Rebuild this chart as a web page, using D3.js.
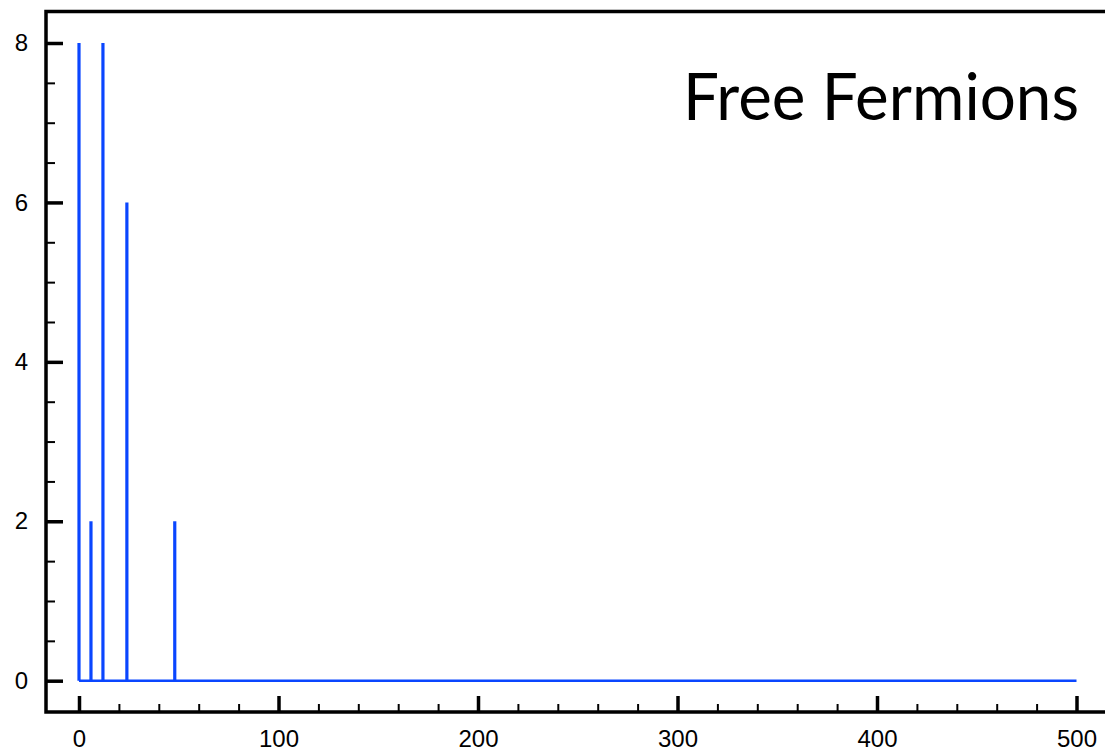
<!DOCTYPE html>
<html>
<head>
<meta charset="utf-8">
<script src="https://cdn.jsdelivr.net/npm/d3@7"></script>
<style>
  body { margin: 0; background: #fff; }
  svg { display: block; }
</style>
</head>
<body>
<div id="chart"></div>
<script>
// spike positions (energy) and their heights (degeneracy)
var energies = [0, 6, 12, 24, 48]
var degeneracy = [8, 2, 8, 6, 2]
var xMax = 500

var xTicks = [0, 100, 200, 300, 400, 500]
var yTicks = [0, 2, 4, 6, 8]
var title = "Free Fermions"

var svgWidth = 1105
var svgHeight = 754

// plot frame
var frame = { left: 46, top: 11.5, right: 1112, bottom: 712 }

var svg = d3.select("#chart")
    .append("svg")
    .attr("width", svgWidth)
    .attr("height", svgHeight)

var x = d3.scaleLinear()
    .domain([0, xMax])
    .range([79, 1076.5])

var y = d3.scaleLinear()
    .domain([0, 8])
    .range([680.7, 43])

var blue = "#0a46ff"

// baseline
svg.append("line")
    .attr("x1", x(0))
    .attr("x2", x(xMax))
    .attr("y1", y(0))
    .attr("y2", y(0))
    .attr("stroke", blue)
    .attr("stroke-width", 2.4)

// spikes
var spikes = energies.map(function(e, i) {
    return { e: e, n: degeneracy[i] }
})

svg.selectAll("line.spike").data(spikes)
    .enter().append("line").attr("class", "spike")
    .attr("x1", function(d) { return x(d.e) })
    .attr("x2", function(d) { return x(d.e) })
    .attr("y1", y(0))
    .attr("y2", function(d) { return y(d.n) })
    .attr("stroke", blue)
    .attr("stroke-width", 3.2)

// minor ticks
var xMinor = d3.range(0, xMax + 1, 20).filter(function(v) { return v % 100 !== 0 })
var yMinor = d3.range(0, 8.01, 0.5).filter(function(v) { return v % 2 !== 0 })

svg.append("g")
    .attr("transform", "translate(0," + frame.bottom + ")")
    .call(function(g) {
        g.call(d3.axisBottom(x).tickValues(xMinor).tickSize(-8).tickFormat(""))
        styleAxis(g, 2)
    })

svg.append("g")
    .attr("transform", "translate(" + frame.left + ",0)")
    .call(function(g) {
        g.call(d3.axisLeft(y).tickValues(yMinor).tickSize(-9).tickFormat(""))
        styleAxis(g, 2)
    })

// major ticks with labels
svg.append("g")
    .attr("transform", "translate(0," + frame.bottom + ")")
    .call(function(g) {
        g.call(d3.axisBottom(x).tickValues(xTicks).tickSize(-16).tickPadding(18))
        styleAxis(g, 3.5)
    })

svg.append("g")
    .attr("transform", "translate(" + frame.left + ",0)")
    .call(function(g) {
        g.call(d3.axisLeft(y).tickValues(yTicks).tickSize(-17).tickPadding(18))
        styleAxis(g, 3.5)
    })

// frame
svg.append("path")
    .attr("d", "M" + frame.right + "," + frame.top + "H" + frame.left + "V" + frame.bottom + "H" + frame.right)
    .attr("fill", "none")
    .attr("stroke", "#000")
    .attr("stroke-width", 3.5)

svg.append("text")
    .attr("x", 1079)
    .attr("y", 120)
    .attr("text-anchor", "end")
    .style("font-family", "Lato, 'Open Sans', sans-serif")
    .style("font-size", "65px")
    .attr("textLength", 396)
    .attr("lengthAdjust", "spacingAndGlyphs")
    .text(title)

function styleAxis(g, w) {
    g.select(".domain").remove()
    g.selectAll("line").attr("stroke", "#000").attr("stroke-width", w)
    g.selectAll("text")
        .style("font-family", "'Liberation Sans', Arial, sans-serif")
        .style("font-size", "24px")
        .attr("fill", "#000")
}
</script>
</body>
</html>
